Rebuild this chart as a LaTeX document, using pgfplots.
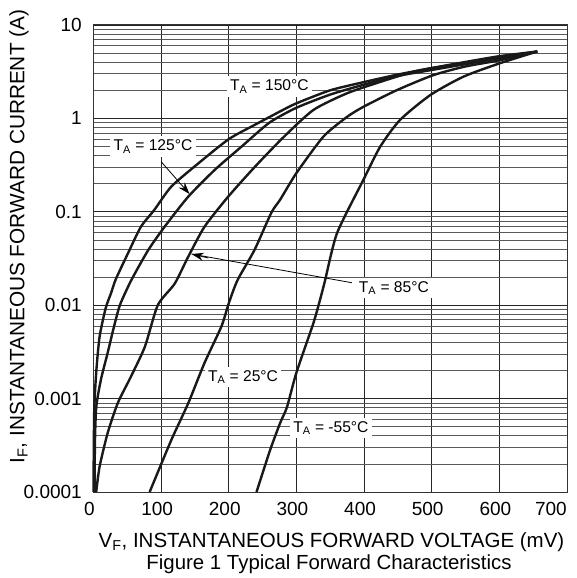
\documentclass[border=0pt]{standalone}
\usepackage{fontspec}
\setmainfont{Liberation Sans}
\usepackage{pgfplots}
\pgfplotsset{compat=1.18}
\usetikzlibrary{arrows.meta}

\tikzset{
  curve/.style={black!90, line width=2.4pt, smooth, tension=0.4, mark=none},
  lbl/.style={fill=white, inner sep=3.5pt, font=\fontsize{15.6}{15.6}\selectfont},
}

\begin{document}
\begin{tikzpicture}
\useasboundingbox (-93.5pt,-86pt) rectangle (483.5pt,492pt);
\begin{axis}[
  at={(0pt,0pt)}, anchor=south west,
  scale only axis, width=473.5pt, height=467pt,
  xmin=0, xmax=700,
  ymode=log, ymin=1e-4, ymax=10,
  xtick={0,100,...,700},
  xticklabels={0,100,200,300,400,500,600,},
  ytick={1e-4,1e-3,1e-2,1e-1,1,10},
  yticklabels={0.0001,0.001,0.01,0.1,1,10},
  major tick length=0pt, minor tick length=0pt,
  xmajorgrids, ymajorgrids, yminorgrids,
  major grid style={black!85, line width=0.8pt},
  minor grid style={black!65, line width=0.7pt},
  axis line style={black!80, line width=1pt},
  tick label style={font=\fontsize{19}{19}\selectfont, inner sep=0pt},
  xticklabel style={yshift=-10pt, xshift=-4pt},
  yticklabel style={xshift=-11.5pt},
  clip=false,
]
% labels under the curves
\draw[line width=0.8pt] (axis cs:382,0.0174) -- (axis cs:145,0.0353);
\node[lbl] at (axis cs:260,2.2) {T\textsubscript{A} = 150°C};
\node[lbl] at (axis cs:88,0.498) {T\textsubscript{A} = 125°C};
\node[lbl] at (axis cs:444,0.0153) {T\textsubscript{A} = 85°C};
\node[lbl] at (axis cs:221,0.0017) {T\textsubscript{A} = 25°C};
\node[lbl] at (axis cs:351,0.000484) {T\textsubscript{A} = -55°C};
\node[anchor=north east, inner sep=0pt, yshift=-10pt,
  font=\fontsize{19}{19}\selectfont] at (axis cs:700,1e-4) {700};

% T_A = 150 C
\addplot[curve] coordinates {
  (0,1e-4) (1,7e-4) (4,0.0019) (9,0.0046) (18,0.0093) (26,0.0135)
  (33,0.019) (51,0.036) (70,0.069) (90,0.105) (115,0.186) (155,0.33)
  (200,0.6) (238,0.85) (277,1.2) (300,1.45) (350,2.0) (400,2.45)
  (450,2.95) (500,3.45) (600,4.5) (656,5.2)
};
% T_A = 125 C
\addplot[curve] coordinates {
  (2,1e-4) (2,3e-4) (4,8e-4) (11,0.0016) (21,0.0031) (29,0.0054)
  (39,0.01) (56,0.0186) (81,0.039) (105,0.069) (140,0.145) (179,0.28)
  (219,0.5) (260,0.9) (300,1.3) (350,1.8) (400,2.3) (450,2.85)
  (500,3.3) (600,4.4) (656,5.2)
};
% T_A = 85 C
\addplot[curve] coordinates {
  (4,1e-4) (9,1.87e-4) (21,4.3e-4) (36,9e-4) (55,0.0017) (76,0.0036)
  (95,0.01) (120,0.017) (140,0.033) (164,0.069) (199,0.145) (238,0.30)
  (280,0.62) (325,1.23) (375,1.86) (424,2.46) (473,3.16) (522,3.7)
  (597,4.6) (656,5.2)
};
% T_A = 25 C
\addplot[curve] coordinates {
  (83,1e-4) (115,3.6e-4) (140,8.9e-4) (164,0.0024) (189,0.0059)
  (200,0.0105) (213,0.0186) (238,0.039) (263,0.098) (276,0.135)
  (300,0.26) (340,0.64) (375,1.04) (399,1.33) (448,2.0) (502,2.9)
  (550,3.6) (601,4.2) (656,5.2)
};
% T_A = -55 C
\addplot[curve] coordinates {
  (241,1e-4) (261,2.8e-4) (276,5.5e-4) (286,8.1e-4) (300,0.0019)
  (325,0.0064) (335,0.0115) (342,0.018) (360,0.059) (399,0.22)
  (424,0.5) (453,0.96) (498,1.78) (547,2.8) (601,3.9) (656,5.2)
};

\draw[-{Stealth[length=12pt,width=8pt]}, line width=0.8pt]
  (axis cs:100,0.344) -- (axis cs:142,0.155);
\draw[-{Stealth[length=12pt,width=8pt]}, line width=0.8pt]
  (axis cs:170,0.032) -- (axis cs:145,0.0353);
\end{axis}

\node[rotate=90, anchor=base, font=\fontsize{20.8}{20.8}\selectfont]
  at (-69pt,255.5pt) {I\textsubscript{F}, INSTANTANEOUS FORWARD CURRENT (A)};
\node[anchor=base, font=\fontsize{20.5}{20.5}\selectfont]
  at (238pt,-55pt) {V\textsubscript{F}, INSTANTANEOUS FORWARD VOLTAGE (mV)};
\node[anchor=base, font=\fontsize{20.4}{20.4}\selectfont]
  at (235.5pt,-77pt) {Figure 1 Typical Forward Characteristics};
\end{tikzpicture}
\end{document}
